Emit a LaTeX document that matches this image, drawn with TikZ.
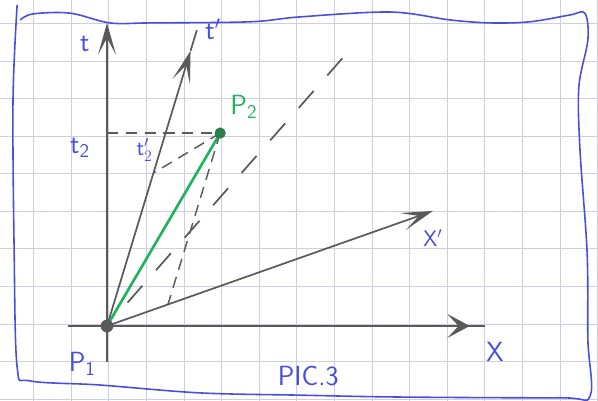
\documentclass[tikz,border=0pt]{standalone}
\usepackage{tikz}
\usetikzlibrary{calc,arrows.meta}
\definecolor{gridc}{HTML}{CDCFE3}
\definecolor{pencil}{HTML}{5A5A5A}
\definecolor{inkc}{HTML}{4A4EE0}
\definecolor{lightc}{HTML}{1FB35C}
\definecolor{dotc}{HTML}{2E7D4A}
\tikzset{
  ln/.style={pencil,line width=1.3pt},
  ax/.style={pencil,line width=1.3pt,-{Stealth[length=8.5mm,width=4.8mm,inset=4.5mm]}},
  dsh/.style={pencil,line width=1.1pt,dash pattern=on 3mm off 2mm},
  cone/.style={pencil,line width=1.3pt,dash pattern=on 6mm off 5.5mm},
  lbl/.style={inkc,font=\sffamily\fontsize{21}{23}\selectfont}
}

\begin{document}
\begin{tikzpicture}
\clip (-2.846,-1.995) rectangle (13.059,8.670);
\draw[gridc,line width=0.6pt,shift={(0.05,0.05)}] (-3,-3) grid (14,9);
% frame
\draw[inkc,line width=1.2pt] plot[smooth,tension=0.55] coordinates {
  (-2.39,8.54) (-2.50,6.01) (-2.47,2.02) (-2.39,-1.09) (-2.05,-1.46) (-0.19,-1.57)
  (2.47,-1.78) (5.13,-1.84) (7.79,-1.89) (12.05,-1.91) (12.85,-1.86) (12.79,-0.37)
  (12.77,1.94) (12.58,4.68) (12.55,6.36) (12.79,7.61) (12.71,8.32) (12.31,8.27)
  (11.25,8.09) (10.19,8.06) (9.12,8.14) (7.53,8.35) (5.13,8.22) (3.80,8.09)
  (1.14,8.06) (0.08,8.06) (-0.98,8.32) (-1.97,8.30) (-2.31,8.14)};
% points
\coordinate (O) at (0,0);
\coordinate (tlow) at (0,-0.96);
\coordinate (tend) at (0,8.06);
\coordinate (xlow) at (-1.04,0);
\coordinate (xend) at (10.05,0);
\coordinate (xtip) at (9.65,0);
\coordinate (tpend) at (2.39,7.87);
\coordinate (tptip) at ($(O)!0.93!(tpend)$);
\coordinate (xpend) at (8.67,3.06);
\coordinate (P2) at (3.01,5.13);
\coordinate (t2) at (0,5.13);
\coordinate (ftp) at ($(O)!0.517!(tpend)$);
\coordinate (fxp) at ($(O)!0.187!(xpend)$);
\coordinate (cend) at (6.41,7.29);
% axes
\draw[ln] (tlow) -- (O);
\draw[ax] (O) -- (tend);
\draw[ln] (xlow) -- (xend);
\draw[ax,-{Stealth[length=6mm,width=6.4mm,inset=3mm]}] (O) -- (xtip);
\draw[ax] (O) -- (tptip);
\draw[ln] (tptip) -- (tpend);
\draw[ax] (O) -- (xpend);
% light line and projections
\draw[cone] ($(O)!0.085!(cend)$) -- (cend);
\draw[dsh] (t2) -- (P2);
\draw[dsh] (P2) -- (ftp);
\draw[dsh] (P2) -- (fxp);
\draw[lightc,line width=2pt] (O) -- (P2);
\fill[pencil] (O) circle (0.17);
\fill[dotc] (P2) circle (0.15);
% labels
\node[lbl] (tlab) at (-0.59,7.5) {t};
\node[lbl] (tplab) at (2.82,7.9) {t$'$};
\node[lbl] (t2lab) at (-0.72,4.73) {t\textsubscript{2}};
\node[lbl,font=\sffamily\fontsize{17}{19}\selectfont] (tp2lab) at (1.0,4.68) {t$'_2$};
\node[lbl,lightc] (P2lab) at (3.64,5.82) {P\textsubscript{2}};
\node[lbl,font=\sffamily\fontsize{17}{19}\selectfont] (xplab) at (8.67,2.34) {X$'$};
\node[lbl] (xlab) at (10.32,-0.69) {X};
\node[lbl] (P1lab) at (-0.66,-1.01) {P\textsubscript{1}};
\node[lbl] (cap) at (5.35,-1.33) {PIC.3};
\end{tikzpicture}
\end{document}
